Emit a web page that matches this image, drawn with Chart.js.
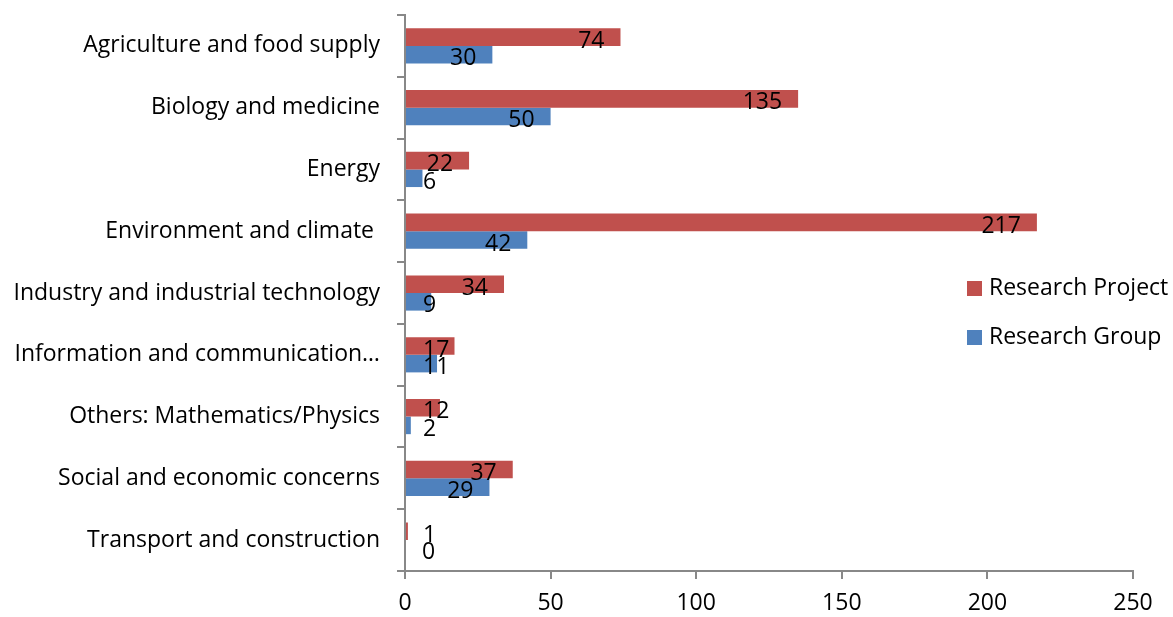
<!DOCTYPE html>
<html>
<head>
<meta charset="utf-8">
<script src="https://cdn.jsdelivr.net/npm/chart.js@4"></script>
<style>
  body { margin: 0; background: #fff; }
  #wrap { width: 1173px; height: 617px; }
</style>
</head>
<body>
<div id="wrap"><canvas id="chart" width="1173" height="617"></canvas></div>
<script>
// 데이터
const categories = [
    'Agriculture and food supply',
    'Biology and medicine',
    'Energy',
    'Environment and climate ',
    'Industry and industrial technology',
    'Information and communication\u2026',
    'Others: Mathematics/Physics',
    'Social and economic concerns',
    'Transport and construction'
];
const projectValues = [74, 135, 22, 217, 34, 17, 12, 37, 1];
const groupValues = [30, 50, 6, 42, 9, 11, 2, 29, 0];
const seriesNames = ['Research Project', 'Research Group'];
const xMin = 0, xMax = 250, xStep = 50;

const FONT = '"Open Sans", "Noto Sans", sans-serif';
const FONT_SIZE = 23;
const AXIS_COLOR = '#888888';

// 막대 끝 값 라벨
const valueLabels = {
    id: 'valueLabels',
    afterDatasetsDraw(chart) {
        const ctx = chart.ctx;
        ctx.save();
        ctx.font = FONT_SIZE + 'px ' + FONT;
        ctx.fillStyle = '#000';
        ctx.textAlign = 'right';
        ctx.textBaseline = 'middle';
        chart.data.datasets.forEach((ds, di) => {
            const meta = chart.getDatasetMeta(di);
            meta.data.forEach((bar, i) => {
                const text = String(ds.data[i]);
                const w = ctx.measureText(text).width;
                // 막대 끝 안쪽, 짧은 막대는 기준선 옆에 고정
                const right = Math.max(bar.x - 16, bar.base + 17 + w);
                ctx.fillText(text, right, bar.y + 4);
            });
        });
        ctx.restore();
    }
};

// 오른쪽 범례 (플롯 영역 안쪽)
const sideLegend = {
    id: 'sideLegend',
    afterDraw(chart) {
        const ctx = chart.ctx;
        ctx.save();
        ctx.font = FONT_SIZE + 'px ' + FONT;
        ctx.textAlign = 'left';
        ctx.textBaseline = 'middle';
        chart.data.datasets.forEach((ds, i) => {
            const cy = 288 + i * 49;
            ctx.fillStyle = ds.backgroundColor;
            ctx.fillRect(967, cy - 7, 15, 15);
            ctx.fillStyle = '#000';
            ctx.fillText(ds.label, 989, cy);
        });
        ctx.restore();
    }
};

new Chart(document.getElementById('chart').getContext('2d'), {
    type: 'bar',
    data: {
        labels: categories,
        datasets: [
            { label: seriesNames[0], data: projectValues, backgroundColor: '#C0504D' },
            { label: seriesNames[1], data: groupValues, backgroundColor: '#4F81BD' }
        ]
    },
    options: {
        indexAxis: 'y',
        responsive: false,
        animation: false,
        datasets: { bar: { categoryPercentage: 0.57, barPercentage: 1.0 } },
        layout: { padding: { top: 15, right: 40, bottom: 0, left: 0 } },
        plugins: {
            legend: { display: false },
            tooltip: { enabled: false }
        },
        scales: {
            x: {
                min: xMin,
                max: xMax,
                ticks: { stepSize: xStep, color: '#000', font: { family: FONT, size: FONT_SIZE }, padding: 11 },
                grid: { drawOnChartArea: false, drawTicks: true, tickLength: 8, color: AXIS_COLOR, lineWidth: 2 },
                border: { display: true, color: AXIS_COLOR, width: 2 },
                afterFit: (scale) => { scale.height = 46; scale.paddingRight = 0; }
            },
            y: {
                ticks: { color: '#000', font: { family: FONT, size: FONT_SIZE }, padding: 17, autoSkip: false },
                grid: { drawOnChartArea: false, drawTicks: true, tickLength: 8, color: AXIS_COLOR, lineWidth: 2 },
                border: { display: true, color: AXIS_COLOR, width: 2 },
                afterFit: (scale) => { scale.width = 405; scale.paddingTop = 0; scale.paddingBottom = 0; }
            }
        }
    },
    plugins: [valueLabels, sideLegend]
});
</script>
</body>
</html>
